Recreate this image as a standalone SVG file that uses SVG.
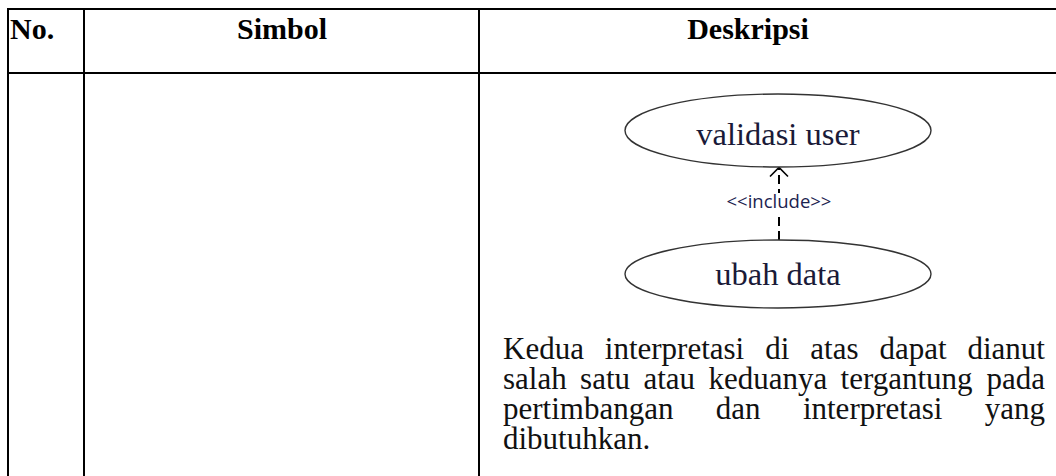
<svg xmlns="http://www.w3.org/2000/svg" width="1056" height="476" viewBox="0 0 1056 476">
  <style>
    .rule { stroke: #000; stroke-width: 2; fill: none; }
    .head { font-family: "Liberation Serif", "Times New Roman", serif; font-weight: bold; font-size: 30px; fill: #000; }
    .body { font-family: "Liberation Serif", "Times New Roman", serif; font-size: 31px; fill: #111; }
    .uc { fill: #fff; stroke: #333; stroke-width: 1.4; }
    .uc-label { font-family: "Liberation Serif", "Times New Roman", serif; font-size: 32.5px; fill: #1a1a38; text-anchor: middle; }
    .dep { stroke: #000; stroke-width: 2; fill: none; stroke-dasharray: 9 5; }
    .stereo { font-family: "Open Sans", "Liberation Sans", sans-serif; font-size: 18.5px; fill: #1c2350; text-anchor: middle; }
  </style>
  <defs>
    <marker id="open-arrow" viewBox="0 0 20 20" refX="18" refY="10" markerWidth="20" markerHeight="20" markerUnits="userSpaceOnUse" orient="auto">
      <path d="M 9 1 L 18 10 L 9 19" fill="none" stroke="#000" stroke-width="1.6"/>
    </marker>
  </defs>
  <rect width="1056" height="476" fill="#fff"/>

  <!-- table grid -->
  <g id="table">
    <line class="rule" x1="7" y1="9" x2="1056" y2="9"/>
    <line class="rule" x1="7" y1="73" x2="1056" y2="73"/>
    <line class="rule" x1="8" y1="8" x2="8" y2="476"/>
    <line class="rule" x1="84" y1="8" x2="84" y2="476"/>
    <line class="rule" x1="479" y1="8" x2="479" y2="476"/>
  </g>

  <!-- header row -->
  <g id="header">
    <text class="head" x="10" y="39">No.</text>
    <text class="head" x="282" y="39" text-anchor="middle">Simbol</text>
    <text class="head" x="748" y="39" text-anchor="middle">Deskripsi</text>
  </g>

  <!-- include relation -->
  <g id="connectors">
    <line class="dep" x1="779" y1="240" x2="779" y2="167.5" marker-end="url(#open-arrow)"/>
    <rect x="722" y="193" width="114" height="20" fill="#fff"/>
    <text class="stereo" x="779" y="208">&lt;&lt;include&gt;&gt;</text>
  </g>

  <g id="uc-validasi-user">
    <ellipse class="uc" cx="778" cy="130.5" rx="153" ry="36.5"/>
    <text class="uc-label" x="778" y="145">validasi user</text>
  </g>

  <g id="uc-ubah-data">
    <ellipse class="uc" cx="778" cy="274" rx="153" ry="34"/>
    <text class="uc-label" x="778" y="285">ubah data</text>
  </g>

  <!-- justified description paragraph -->
  <g id="description" class="body">
    <text y="359"><tspan x="503">Kedua</tspan><tspan x="604.8">interpretasi</tspan><tspan x="765.2">di</tspan><tspan x="810.3">atas</tspan><tspan x="879.4">dapat</tspan></text>
    <text y="359" x="1045" text-anchor="end">dianut</text>
    <text y="389"><tspan x="503">salah</tspan><tspan x="580.1">satu</tspan><tspan x="643.4">atau</tspan><tspan x="708.4">keduanya</tspan><tspan x="840.6">tergantung</tspan></text>
    <text y="389" x="1045" text-anchor="end">pada</text>
    <text y="419"><tspan x="503">pertimbangan</tspan><tspan x="715.8">dan</tspan><tspan x="802.9">interpretasi</tspan></text>
    <text y="419" x="1045" text-anchor="end">yang</text>
    <text y="449" x="503">dibutuhkan.</text>
  </g>
</svg>
